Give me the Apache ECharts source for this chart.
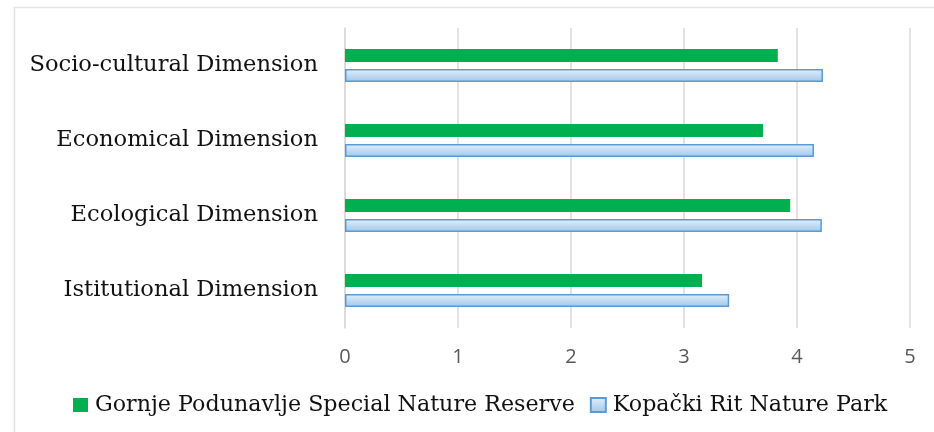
<!DOCTYPE html>
<html>
<head>
<meta charset="utf-8">
<script src="https://cdn.jsdelivr.net/npm/echarts@6/dist/echarts.min.js"></script>
<style>html,body{margin:0;padding:0;background:#fff}#c{width:934px;height:432px}</style>
</head>
<body>
<div id="c"></div>
<script>
var categories = ['Istitutional Dimension', 'Ecological Dimension', 'Economical Dimension', 'Socio-cultural Dimension'];
var gornjeName = 'Gornje Podunavlje Special Nature Reserve';
var kopackiName = 'Kopački Rit Nature Park';
var gornjeValues = [3.16, 3.94, 3.70, 3.83];
var kopackiValues = [3.40, 4.22, 4.15, 4.23];
var xTicks = [0, 1, 2, 3, 4, 5];

var chart = echarts.init(document.getElementById('c'), null, {renderer: 'canvas'});
chart.setOption({
  animation: false,
  backgroundColor: '#fff',
  graphic: [{
    type: 'rect', z: -1,
    shape: {x: 14.5, y: 7.5, width: 940, height: 440},
    style: {fill: 'none', stroke: '#e3e3e3', lineWidth: 1.5}
  }],
  grid: {left: 345, right: 24, top: 28, bottom: 104, containLabel: false},
  legend: {
    data: [gornjeName, kopackiName],
    bottom: 11, left: 68,
    itemWidth: 15, itemHeight: 14, itemGap: 15,
    icon: 'rect',
    textStyle: {fontFamily: 'DejaVu Serif', fontSize: 22.2, color: '#111', padding: [0, 0, 0, 2]}
  },
  xAxis: {
    type: 'value', min: xTicks[0], max: xTicks[xTicks.length - 1], interval: 1,
    axisLine: {show: false}, axisTick: {show: false},
    axisLabel: {fontFamily: 'Open Sans', fontSize: 20, color: '#595959', margin: 19},
    splitLine: {show: true, lineStyle: {color: '#d9d9d9', width: 1.5}}
  },
  yAxis: {
    type: 'category', data: categories,
    axisLine: {show: true, lineStyle: {color: '#d9d9d9', width: 1.5}},
    axisTick: {show: false},
    axisLabel: {fontFamily: 'DejaVu Serif', fontSize: 22.6, color: '#111', margin: 27}
  },
  series: [{
    name: gornjeName, type: 'bar', data: gornjeValues,
    barWidth: 13, barGap: '55%',
    itemStyle: {color: '#00b050'}
  }, {
    name: kopackiName, type: 'bar', data: kopackiValues,
    barWidth: 13, barGap: '55%',
    itemStyle: {
      color: new echarts.graphic.LinearGradient(0, 0, 0, 1, [
        {offset: 0, color: '#e4eff9'}, {offset: 1, color: '#9fc6ea'}]),
      borderColor: '#5b9bd5', borderWidth: 1.5
    }
  }]
});
</script>
</body>
</html>
